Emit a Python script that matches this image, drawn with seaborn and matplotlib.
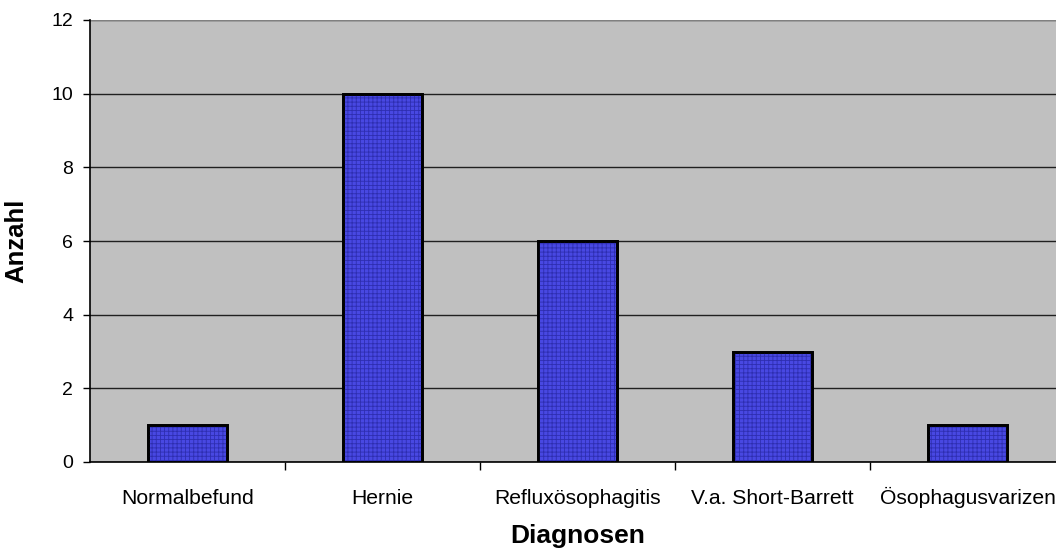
import matplotlib
matplotlib.use("Agg")
import matplotlib.pyplot as plt
import seaborn as sns
import pandas as pd
from matplotlib.patches import Rectangle
from matplotlib.ticker import FixedLocator

categories = ["Normalbefund", "Hernie", "Refluxösophagitis", "V.a. Short-Barrett", "Ösophagusvarizen"]
counts = [1, 10, 6, 3, 1]
y_ticks = [0, 2, 4, 6, 8, 10, 12]

sns.set_theme(style="white")
plt.rcParams["font.family"] = ["Liberation Sans", "DejaVu Sans"]
plt.rcParams["text.color"] = "black"
plt.rcParams["axes.labelcolor"] = "black"
plt.rcParams["xtick.color"] = "black"
plt.rcParams["ytick.color"] = "black"
plt.rcParams["hatch.linewidth"] = 0.6

df = pd.DataFrame({"Diagnosen": categories, "Anzahl": counts})

fig = plt.figure(figsize=(10.56, 5.48), dpi=100)
ax = fig.add_axes([90 / 1056, 86 / 548, 975 / 1056, 442 / 548])
ax.set_facecolor("#C0C0C0")

sns.barplot(data=df, x="Diagnosen", y="Anzahl", ax=ax, color="#4848E2",
            saturation=1, width=0.405, edgecolor="black", linewidth=2, zorder=3)

# fine checker texture on top of the fill, then the black outline
for p in list(ax.patches):
    ax.add_patch(Rectangle(p.get_xy(), p.get_width(), p.get_height(),
                           fill=False, hatch="++++", edgecolor="#2E2EB0",
                           linewidth=0, zorder=3.5))
    ax.add_patch(Rectangle(p.get_xy(), p.get_width(), p.get_height(),
                           fill=False, edgecolor="black", linewidth=2, zorder=4))

ax.set_xlim(-0.5, len(categories) - 0.5)
ax.set_ylim(0, 12)
ax.set_yticks(y_ticks)
ax.yaxis.grid(True, color="#202020", linewidth=1, zorder=1)
ax.set_axisbelow(True)

ax.tick_params(axis="y", which="major", left=True, length=5, width=1,
               color="black", labelsize=14, pad=7, direction="out")
ax.tick_params(axis="x", which="major", bottom=True, length=0,
               labelsize=15.2, pad=30)
for lab in ax.get_xticklabels():
    lab.set_verticalalignment("baseline")
ax.xaxis.set_minor_locator(FixedLocator([i + 0.5 for i in range(len(categories) - 1)]))
ax.tick_params(axis="x", which="minor", bottom=True, length=6, width=1,
               color="black", direction="out")

for side in ["top", "right"]:
    ax.spines[side].set_visible(False)
ax.axhline(12, color="#808080", linewidth=1.5, zorder=2)
for side in ["left", "bottom"]:
    ax.spines[side].set_color("black")
    ax.spines[side].set_linewidth(1.2)

ax.set_xlabel("Diagnosen", fontsize=19, fontweight="bold", labelpad=11.5)
ax.set_ylabel("Anzahl", fontsize=18.5, fontweight="bold", labelpad=17)

fig.savefig("out.png", dpi=100)
